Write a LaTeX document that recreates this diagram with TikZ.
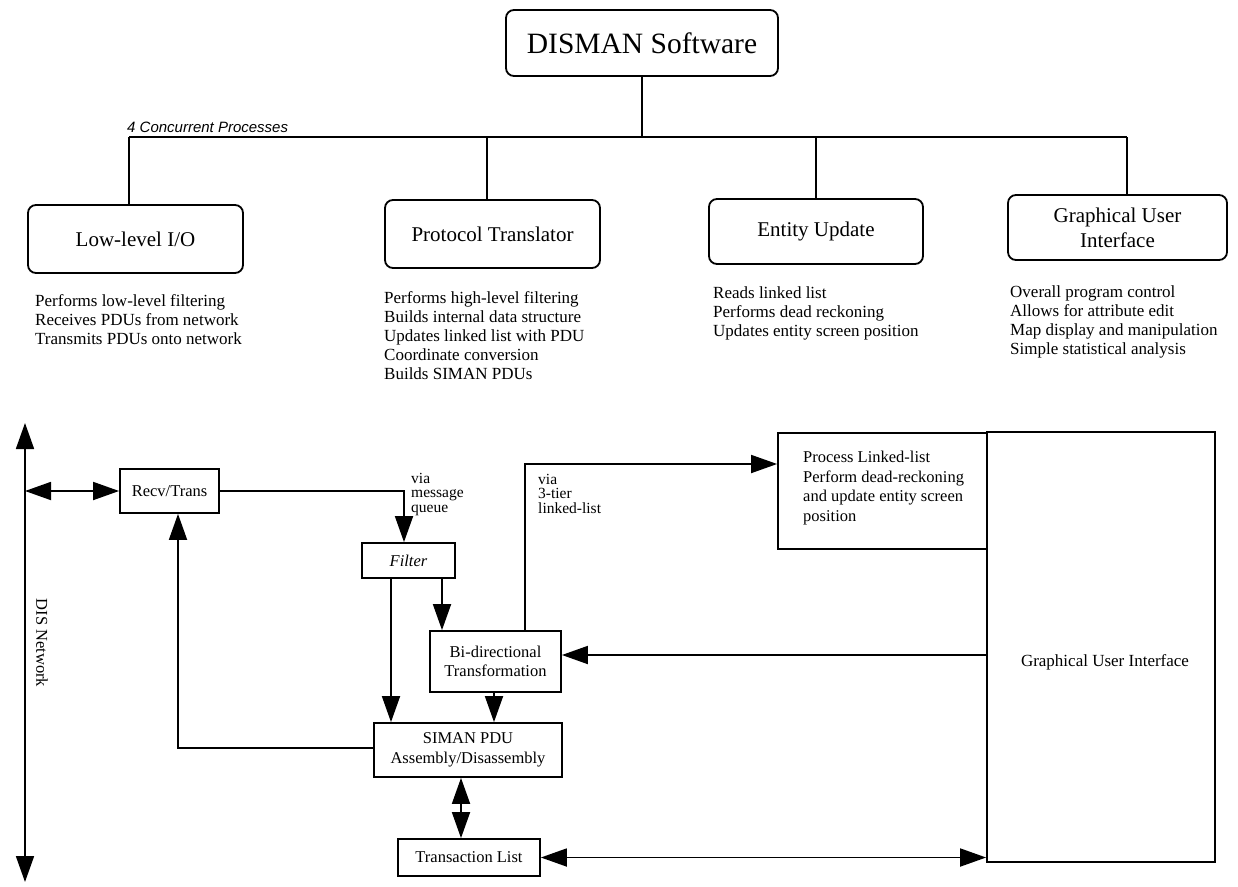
\documentclass[tikz,border=0pt]{standalone}
\usepackage{fontspec}
\setmainfont{Liberation Serif}
\newfontfamily\sansfam{Liberation Sans}
\usetikzlibrary{arrows.meta}
\tikzset{
  ln/.style={line width=1.8pt},
  big/.style={-{Triangle[length=26pt,width=18pt]}},
  bigboth/.style={{Triangle[length=26pt,width=18pt]}-{Triangle[length=26pt,width=18pt]}},
  rbox/.style={draw, line width=1.8pt, rounded corners=8pt, inner sep=0pt, align=center, font=\fontsize{21}{25}\selectfont},
  sbox/.style={draw, line width=1.8pt, inner sep=0pt, align=center, font=\fontsize{16.5}{19.5}\selectfont},
  desc/.style={inner sep=0pt, anchor=north west, align=left, font=\fontsize{17}{19}\selectfont},
  lbl/.style={inner sep=0pt, anchor=north west, align=left, font=\fontsize{15.5}{14.5}\selectfont},
}
\begin{document}
\begin{tikzpicture}[x=1pt,y=-1pt]
\useasboundingbox (0,0) rectangle (1238,886);
\fill[white] (0,0) rectangle (1238,886);

% --- top hierarchy ---
\node[rbox, minimum width=272pt, minimum height=66pt, font=\fontsize{29.5}{34}\selectfont] (dis) at (642,43) {DISMAN Software};
\node[rbox, minimum width=215pt, minimum height=68pt] (low) at (135.5,239) {Low-level I/O};
\node[rbox, minimum width=215pt, minimum height=68pt] (prot) at (492.5,234) {Protocol Translator};
\node[rbox, minimum width=214pt, minimum height=65pt] (ent) at (816,231.5) {Entity Update};
\node[rbox, minimum width=219pt, minimum height=65pt] (gui) at (1117.5,227.5) {Graphical User\\Interface};

\coordinate (busL) at (129,137);
\coordinate (busP) at (487,137);
\coordinate (busE) at (816,137);
\coordinate (busR) at (1127,137);
\draw[ln] (busL) -- (busR);
\draw[ln] (dis.south) -- (dis.south |- busL);
\draw[ln] (busL) -- (busL |- low.north);
\draw[ln] (busP) -- (busP |- prot.north);
\draw[ln] (busE) -- (busE |- ent.north);
\draw[ln] (busR) -- (busR |- gui.north);

\node[inner sep=0pt, anchor=base west, font=\sansfam\itshape\fontsize{15}{17}\selectfont] (conc) at (127,132) {4 Concurrent Processes};

\node[desc] (dlow) at (35,294) {Performs low-level filtering\\Receives PDUs from network\\Transmits PDUs onto network};
\node[desc] (dprot) at (384,291) {Performs high-level filtering\\Builds internal data structure\\Updates linked list with PDU\\Coordinate conversion\\Builds SIMAN PDUs};
\node[desc] (dent) at (713,286) {Reads linked list\\Performs dead reckoning\\Updates entity screen position};
\node[desc] (dgui) at (1010,285) {Overall program control\\Allows for attribute edit\\Map display and manipulation\\Simple statistical analysis};

% --- lower data-flow diagram ---
\coordinate (ntop) at (25,423);
\coordinate (nbot) at (25,882);
\coordinate (njoin) at (25,491);
\draw[ln, bigboth] (ntop) -- (nbot);
\node[inner sep=0pt, rotate=-90, font=\fontsize{16.5}{19}\selectfont] (disnet) at (42,643) {DIS Network};

\node[sbox, minimum width=99pt, minimum height=44pt] (recv) at (169.5,491) {Recv/Trans};
\node[sbox, minimum width=93pt, minimum height=35pt, font=\itshape\fontsize{16.5}{19.5}\selectfont] (filter) at (408.5,560.5) {Filter};
\node[sbox, minimum width=131pt, minimum height=61pt] (bidir) at (495.5,661.5) {Bi-directional\\Transformation};
\node[sbox, minimum width=188pt, minimum height=54pt] (siman) at (468,750) {SIMAN PDU\\Assembly/Disassembly};
\node[sbox, minimum width=142pt, minimum height=37pt] (tlist) at (469,857.5) {Transaction List};
\node[draw, line width=1.8pt, minimum width=209pt, minimum height=116pt, inner sep=0pt] (proc) at (882.5,491) {};
\node[desc, font=\fontsize{16.5}{19.5}\selectfont] (proctxt) at (803,451) {Process Linked-list\\Perform dead-reckoning\\and update entity screen\\position};
\node[draw, line width=1.8pt, minimum width=228pt, minimum height=430pt, inner sep=0pt] (guib) at (1101,647) {};
\node[inner sep=0pt, font=\fontsize{17}{20}\selectfont] (guitxt) at (1105,662) {Graphical User Interface};

\draw[ln, bigboth] (njoin) -- (recv.west);
\draw[ln, big] (recv.east) -| ([xshift=-4.5pt]filter.north);
\node[lbl] (vmq) at (411,473) {via\\message\\queue};
\draw[ln, big] ([xshift=-17.5pt]filter.south) -- ([xshift=-17.5pt]filter.south |- siman.north);
\draw[ln, big] ([xshift=33.5pt]filter.south) -- ([xshift=33.5pt]filter.south |- bidir.north);
\draw[ln, big] ([xshift=-1.5pt]bidir.south) -- ([xshift=-1.5pt]bidir.south |- siman.north);
\draw[ln, big] ([xshift=29.5pt]bidir.north) |- ([yshift=27pt]proc.west);
\node[lbl] (v3t) at (538,474) {via\\3-tier\\linked-list};
\draw[ln, big] ([yshift=-8pt]guib.west) -- ([yshift=-8pt]guib.west -| bidir.east);
\draw[ln, big] ([yshift=2pt]siman.west) -| ([xshift=8.5pt]recv.south);
\draw[ln, bigboth] ([xshift=-7pt]siman.south) -- ([xshift=-7pt]siman.south |- tlist.north);
\draw[ln, bigboth] (tlist.east) -- (tlist.east -| guib.west);
\end{tikzpicture}
\end{document}
